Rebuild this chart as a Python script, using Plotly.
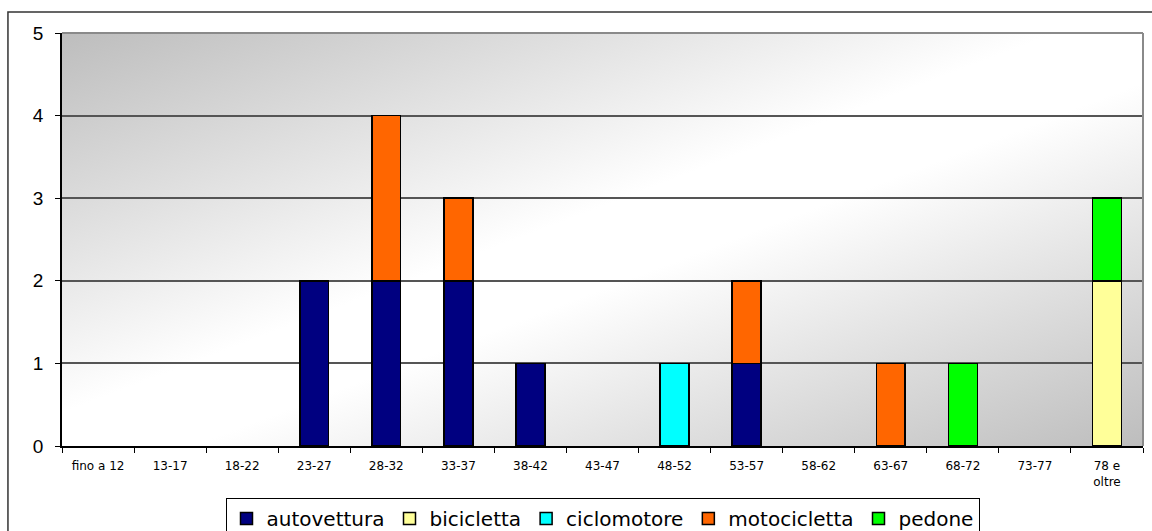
import base64
import plotly.graph_objects as go

# Age classes (x axis)
classi_eta = ["fino a 12", "13-17", "18-22", "23-27", "28-32", "33-37", "38-42",
              "43-47", "48-52", "53-57", "58-62", "63-67", "68-72", "73-77",
              "78 e<br>oltre"]

# Counts per vehicle type, one value per age class
autovettura = [0, 0, 0, 2, 2, 2, 1, 0, 0, 1, 0, 0, 0, 0, 0]
bicicletta = [0, 0, 0, 0, 0, 0, 0, 0, 0, 0, 0, 0, 0, 0, 2]
ciclomotore = [0, 0, 0, 0, 0, 0, 0, 0, 1, 0, 0, 0, 0, 0, 0]
motocicletta = [0, 0, 0, 0, 2, 1, 0, 0, 0, 1, 0, 1, 0, 0, 0]
pedone = [0, 0, 0, 0, 0, 0, 0, 0, 0, 0, 0, 0, 1, 0, 1]

serie = [
    ("autovettura", autovettura, "#000080"),
    ("bicicletta", bicicletta, "#FFFF99"),
    ("ciclomotore", ciclomotore, "#00FFFF"),
    ("motocicletta", motocicletta, "#FF6600"),
    ("pedone", pedone, "#00FF00"),
]

fig = go.Figure()
for nome, valori, colore in serie:
    # empty classes are left out so no flat outline is drawn on the axis
    fig.add_trace(go.Bar(
        name=nome, x=classi_eta, y=[v if v else None for v in valori], width=0.4,
        marker=dict(color=colore, line=dict(color="black", width=1.5)),
    ))

# Diagonal grey-white-grey backdrop for the plot area
svg = (
    '<svg xmlns="http://www.w3.org/2000/svg" width="1080" height="413" '
    'preserveAspectRatio="none" viewBox="0 0 1080 413">'
    '<defs><linearGradient id="g" x1="0" y1="0" x2="1" y2="1">'
    '<stop offset="0" stop-color="#bdbdbd"/>'
    '<stop offset="0.46" stop-color="#ffffff"/>'
    '<stop offset="0.56" stop-color="#ffffff"/>'
    '<stop offset="1" stop-color="#bdbdbd"/>'
    '</linearGradient></defs>'
    '<rect width="1080" height="413" fill="url(#g)"/></svg>'
)
svg_uri = "data:image/svg+xml;base64," + base64.b64encode(svg.encode()).decode()

fig.add_layout_image(dict(
    source=svg_uri, xref="paper", yref="paper", x=0, y=1,
    sizex=1, sizey=1, sizing="stretch", xanchor="left", yanchor="top",
    layer="below",
))

# Outer frame around the whole chart
fig.add_shape(type="rect", xref="paper", yref="paper",
              x0=-0.05, x1=1.02, y0=-0.25, y1=1.051,
              line=dict(color="#333333", width=1.5), fillcolor="rgba(0,0,0,0)")
# Grey top and right edges of the plot area
fig.add_shape(type="line", xref="paper", yref="paper", x0=0, x1=1, y0=1, y1=1,
              line=dict(color="#8a8a8a", width=2))
fig.add_shape(type="line", xref="paper", yref="paper", x0=1, x1=1, y0=0, y1=1,
              line=dict(color="#8a8a8a", width=2))

fig.update_layout(
    barmode="stack",
    width=1152, height=531,
    margin=dict(l=62, r=9, t=33, b=85, autoexpand=False),
    paper_bgcolor="white",
    plot_bgcolor="rgba(0,0,0,0)",
    showlegend=True,
    legend=dict(
        orientation="h", x=0.5, xanchor="center",
        yref="container", y=0.062, yanchor="top",
        bordercolor="black", borderwidth=1, bgcolor="white",
        font=dict(family="DejaVu Sans", size=20, color="black"),
        traceorder="normal", itemwidth=30,
    ),
    font=dict(family="Liberation Sans", color="black"),
)

fig.update_xaxes(
    type="category", tickson="boundaries", ticks="outside", ticklen=5,
    tickcolor="black", showline=True, linecolor="black", linewidth=1.5,
    showgrid=False, tickfont=dict(family="DejaVu Sans", size=12, color="black"),
    tickangle=0, automargin=False, ticklabelstandoff=8,
)
fig.update_yaxes(
    range=[0, 5], dtick=1, ticks="outside", ticklen=5, tickcolor="black",
    showline=True, linecolor="black", linewidth=1.5,
    showgrid=True, gridcolor="#555555", gridwidth=1.5, zeroline=False,
    tickfont=dict(family="Liberation Sans", size=19, color="black"),
    automargin=False, ticklabelstandoff=8,
)

fig.write_html("out.html")
